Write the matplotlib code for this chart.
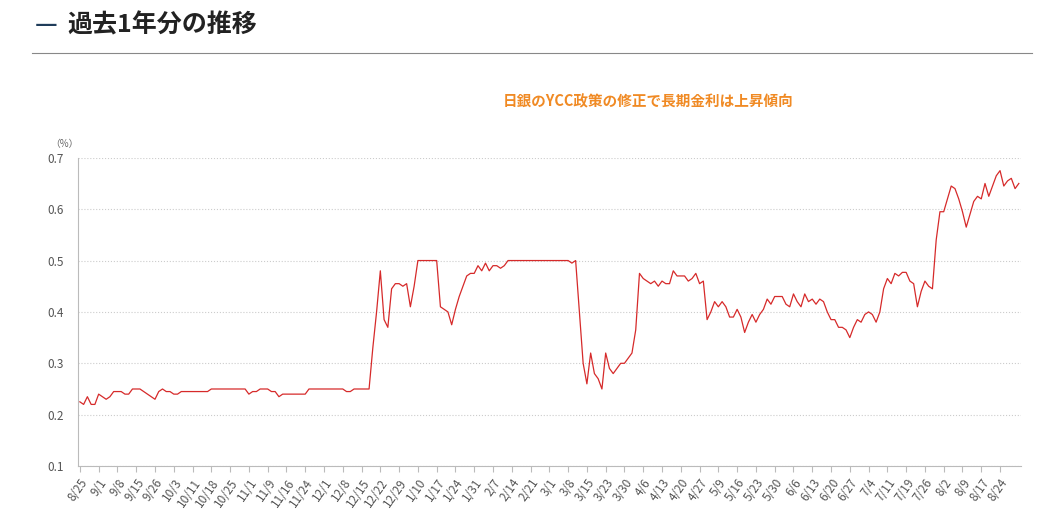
import matplotlib.pyplot as plt
from matplotlib.lines import Line2D

plt.rcParams['font.family'] = 'Noto Sans CJK JP'

# weekly tick labels, one every 5 trading days
tick_labels = ['8/25', '9/1', '9/8', '9/15', '9/26', '10/3', '10/11', '10/18', '10/25',
               '11/1', '11/9', '11/16', '11/24', '12/1', '12/8', '12/15', '12/22', '12/29',
               '1/10', '1/17', '1/24', '1/31', '2/7', '2/14', '2/21', '3/1', '3/8', '3/15',
               '3/23', '3/30', '4/6', '4/13', '4/20', '4/27', '5/9', '5/16', '5/23', '5/30',
               '6/6', '6/13', '6/20', '6/27', '7/4', '7/11', '7/19', '7/26', '8/2', '8/9',
               '8/17', '8/24']

# 10-year JGB yield (%), daily
yields = [
    0.225, 0.22, 0.235, 0.22, 0.22,
    0.24, 0.235, 0.23, 0.235, 0.245,
    0.245, 0.245, 0.24, 0.24, 0.25,
    0.25, 0.25, 0.245, 0.24, 0.235,
    0.23, 0.245, 0.25, 0.245, 0.245,
    0.24, 0.24, 0.245, 0.245, 0.245,
    0.245, 0.245, 0.245, 0.245, 0.245,
    0.25, 0.25, 0.25, 0.25, 0.25,
    0.25, 0.25, 0.25, 0.25, 0.25,
    0.24, 0.245, 0.245, 0.25, 0.25,
    0.25, 0.245, 0.245, 0.235, 0.24,
    0.24, 0.24, 0.24, 0.24, 0.24,
    0.24, 0.25, 0.25, 0.25, 0.25,
    0.25, 0.25, 0.25, 0.25, 0.25,
    0.25, 0.245, 0.245, 0.25, 0.25,
    0.25, 0.25, 0.25, 0.33, 0.40,
    0.48, 0.385, 0.37, 0.445, 0.455,
    0.455, 0.45, 0.455, 0.41, 0.45,
    0.50, 0.50, 0.50, 0.50, 0.50,
    0.50, 0.41, 0.405, 0.40, 0.375,
    0.405, 0.43, 0.45, 0.47, 0.475,
    0.475, 0.49, 0.48, 0.495, 0.48,
    0.49, 0.49, 0.485, 0.49, 0.50,
    0.50, 0.50, 0.50, 0.50, 0.50,
    0.50, 0.50, 0.50, 0.50, 0.50,
    0.50, 0.50, 0.50, 0.50, 0.50,
    0.50, 0.495, 0.50, 0.40, 0.30,
    0.26, 0.32, 0.28, 0.27, 0.25,
    0.32, 0.29, 0.28, 0.29, 0.30,
    0.30, 0.31, 0.32, 0.365, 0.475,
    0.465, 0.46, 0.455, 0.46, 0.45,
    0.46, 0.455, 0.455, 0.48, 0.47,
    0.47, 0.47, 0.46, 0.465, 0.475,
    0.455, 0.46, 0.385, 0.40, 0.42,
    0.41, 0.42, 0.41, 0.39, 0.39,
    0.405, 0.39, 0.36, 0.38, 0.395,
    0.38, 0.395, 0.405, 0.425, 0.415,
    0.43, 0.43, 0.43, 0.415, 0.41,
    0.435, 0.42, 0.41, 0.435, 0.42,
    0.425, 0.415, 0.425, 0.42, 0.40,
    0.385, 0.385, 0.37, 0.37, 0.365,
    0.35, 0.37, 0.385, 0.38, 0.395,
    0.40, 0.395, 0.38, 0.40, 0.445,
    0.465, 0.455, 0.475, 0.47, 0.477,
    0.477, 0.46, 0.455, 0.41, 0.44,
    0.46, 0.45, 0.445, 0.54, 0.595,
    0.595, 0.62, 0.645, 0.64, 0.62,
    0.595, 0.565, 0.59, 0.615, 0.625,
    0.62, 0.65, 0.625, 0.645, 0.665,
    0.675, 0.645, 0.655, 0.66, 0.64, 0.65,
]

fig = plt.figure(figsize=(10.64, 5.19), dpi=100)

# page heading
fig.text(0.033, 0.952, '—', fontsize=18, fontweight='bold', color='#1f3c5a', va='center')
fig.text(0.063, 0.952, '過去1年分の推移', fontsize=18, fontweight='bold',
         color='#222222', va='center')
fig.add_artist(Line2D([0.03, 0.97], [0.898, 0.898], color='#888888', lw=0.8))
fig.text(0.609, 0.805, '日銀のYCC政策の修正で長期金利は上昇傾向', fontsize=10.5,
         fontweight='bold', color='#f08a24', ha='center', va='center')
fig.text(0.047, 0.722, '（%）', fontsize=7, color='#666666', va='center')

ax = fig.add_axes([0.0733, 0.102, 0.886, 0.594])
ax.plot(range(len(yields)), yields, color='#d62a2a', lw=0.9)

ax.set_ylim(0.1, 0.7)
ax.set_xlim(-0.5, len(yields) - 0.5)
ax.set_yticks([0.1, 0.2, 0.3, 0.4, 0.5, 0.6, 0.7])
ax.set_yticklabels(['0.1', '0.2', '0.3', '0.4', '0.5', '0.6', '0.7'])
ax.set_xticks(range(0, len(tick_labels) * 5, 5))
ax.set_xticklabels(tick_labels, rotation=55, ha='right', rotation_mode='anchor')
ax.tick_params(axis='x', labelsize=8.5, colors='#555555', length=4, color='#bbbbbb')
ax.tick_params(axis='y', labelsize=8.5, colors='#555555', length=0, pad=10)
ax.grid(axis='y', linestyle=':', color='#cccccc', lw=0.8)
for side in ['top', 'right']:
    ax.spines[side].set_visible(False)
for side in ['left', 'bottom']:
    ax.spines[side].set_color('#bbbbbb')

fig.savefig('out.png', dpi=100)
